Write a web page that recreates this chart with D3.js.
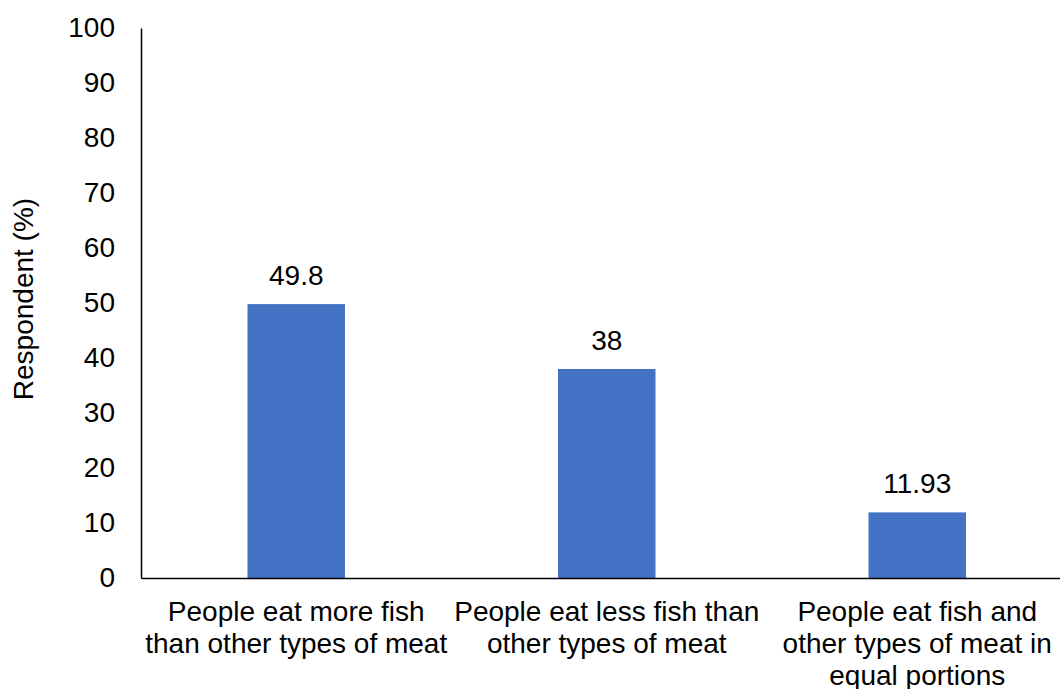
<!DOCTYPE html>
<html>
<head>
<meta charset="utf-8">
<script src="https://cdn.jsdelivr.net/npm/d3@7"></script>
<style>
  html, body { margin: 0; padding: 0; background: #fff; }
  svg { display: block; font-family: "Liberation Sans", Arial, sans-serif; }
</style>
</head>
<body>
<svg id="chart" width="1060" height="689"></svg>
<script>
// Share of respondents by fish-eating habit
const categories = [
  ["People eat more fish", "than other types of meat"],
  ["People eat less fish than", "other types of meat"],
  ["People eat fish and", "other types of meat in", "equal portions"]
];
const values = [49.8, 38, 11.93];
const valueLabels = ["49.8", "38", "11.93"];
const yTicks = [0, 10, 20, 30, 40, 50, 60, 70, 80, 90, 100];
const yTitle = "Respondent (%)";

const svg = d3.select("#chart");
const fontSize = 28;
const plotLeft = 141, plotTop = 28, plotBottom = 578, plotRight = 1072.5;

const x = d3.scaleBand()
  .domain(d3.range(categories.length))
  .range([plotLeft, plotRight])
  .paddingInner(0.686)
  .paddingOuter(0.343);

const y = d3.scaleLinear().domain([0, 100]).range([plotBottom, plotTop]);

// Bars
svg.append("g").selectAll("rect")
  .data(values)
  .join("rect")
  .attr("x", (d, i) => x(i))
  .attr("y", d => y(d))
  .attr("width", x.bandwidth())
  .attr("height", d => y(0) - y(d))
  .attr("fill", "#4472C4");

// Value labels above bars
svg.append("g").selectAll("text")
  .data(values)
  .join("text")
  .attr("x", (d, i) => x(i) + x.bandwidth() / 2)
  .attr("y", d => y(d) - 19)
  .attr("text-anchor", "middle")
  .attr("font-size", fontSize)
  .attr("fill", "#000")
  .text((d, i) => valueLabels[i]);

// Y axis
const yAxis = d3.axisLeft(y).tickValues(yTicks).tickSize(0).tickPadding(26);
const gy = svg.append("g").attr("transform", `translate(${plotLeft},0)`).call(yAxis);
gy.select(".domain").attr("stroke", "#000").attr("stroke-width", 1.5);
gy.selectAll(".tick text")
  .attr("font-size", fontSize)
  .attr("font-family", "Liberation Sans, Arial, sans-serif")
  .attr("fill", "#000");

// X axis baseline
const xAxis = d3.axisBottom(x).tickSize(0).tickFormat(() => "");
const gx = svg.append("g").attr("transform", `translate(0,${plotBottom})`).call(xAxis);
gx.select(".domain").attr("stroke", "#000").attr("stroke-width", 1.5);

// Multi-line category labels
const catG = svg.append("g");
categories.forEach((lines, i) => {
  const cx = x(i) + x.bandwidth() / 2;
  const t = catG.append("text")
    .attr("x", cx)
    .attr("y", 621)
    .attr("text-anchor", "middle")
    .attr("font-size", fontSize)
    .attr("fill", "#000");
  lines.forEach((ln, j) => {
    t.append("tspan")
      .attr("x", cx)
      .attr("dy", j === 0 ? 0 : 32)
      .text(ln);
  });
});

// Y axis title
svg.append("text")
  .attr("transform", `translate(33,299) rotate(-90)`)
  .attr("text-anchor", "middle")
  .attr("font-size", fontSize)
  .attr("fill", "#000")
  .text(yTitle);
</script>
</body>
</html>
